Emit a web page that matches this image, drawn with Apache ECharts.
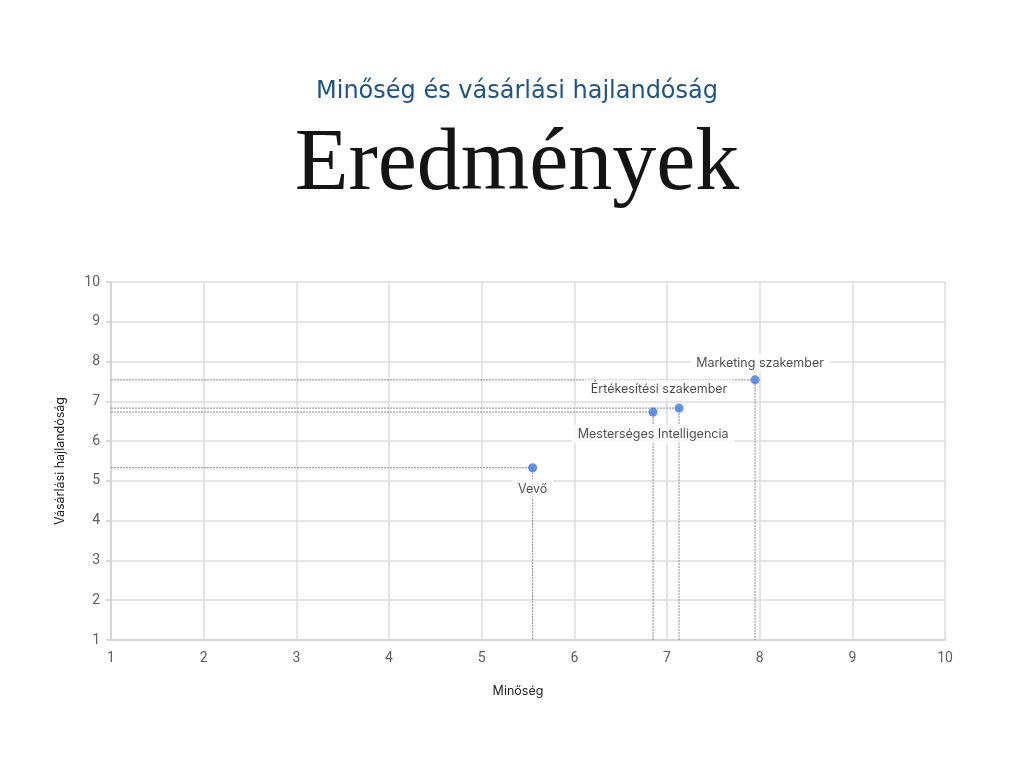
<!DOCTYPE html>
<html>
<head>
<meta charset="utf-8">
<script src="https://cdn.jsdelivr.net/npm/echarts@6/dist/echarts.min.js"></script>
<style>
  html, body { margin: 0; padding: 0; background: #fff; }
  #chart { width: 1024px; height: 768px; }
</style>
</head>
<body>
<div id="chart"></div>
<script>
// adatok
const names = ['Vevő', 'Mesterséges Intelligencia', 'Értékesítési szakember', 'Marketing szakember']
const quality = [5.55, 6.85, 7.13, 7.95]
const willingness = [5.33, 6.73, 6.83, 7.54]
const axisTicks = [1, 2, 3, 4, 5, 6, 7, 8, 9, 10]

const labelFont = 'Inter, "Open Sans", sans-serif'
// label placement per point
const labelPlace = [
  { position: 'bottom', offset: [0, 2] },
  { position: 'bottom', offset: [0, 3] },
  { position: 'top', offset: [-20, 0] },
  { position: 'top', offset: [5, 2] }
]

const myChart = echarts.init(document.getElementById('chart'))

// szaggatott vetítővonalak a tengelyekig
const dropLines = names.map((n, i) => ({
  type: 'line',
  silent: true,
  symbol: 'none',
  z: 1,
  lineStyle: { color: '#8a8a8a', width: 1, type: [2, 1] },
  data: [[axisTicks[0], willingness[i]], [quality[i], willingness[i]], [quality[i], axisTicks[0]]]
}))

myChart.setOption({
  backgroundColor: '#fff',
  title: [
    {
      text: 'Minőség és vásárlási hajlandóság',
      left: 512, top: 75, textAlign: 'center',
      textStyle: { color: '#1f5584', fontSize: 24, fontWeight: 'normal', fontFamily: '"DejaVu Sans", sans-serif' }
    },
    {
      text: 'Eredmények',
      left: 512, top: 117, textAlign: 'center',
      textStyle: { color: '#141414', fontSize: 88, fontWeight: 'normal', fontFamily: '"Liberation Serif", serif' }
    }
  ],
  grid: { left: 111, right: 79, top: 282, bottom: 128 },
  xAxis: {
    type: 'value', min: 1, max: 10, interval: 1,
    name: 'Minőség', nameLocation: 'middle', nameGap: 45,
    nameTextStyle: { color: '#222', fontSize: 12.5, fontFamily: labelFont, padding: [0, 20, 0, 0] },
    axisLine: { show: true, lineStyle: { color: '#cfcfcf', width: 1.5 } },
    axisTick: { show: false },
    axisLabel: { color: '#5f5f5f', fontSize: 14, margin: 11, fontFamily: 'Roboto, sans-serif' },
    splitLine: { lineStyle: { color: '#dcdcdc', width: 1.5 } }
  },
  yAxis: {
    type: 'value', min: 1, max: 10, interval: 1,
    name: 'Vásárlási hajlandóság', nameLocation: 'middle', nameGap: 44,
    nameTextStyle: { color: '#222', fontSize: 12.5, fontFamily: labelFont },
    axisLine: { show: true, lineStyle: { color: '#cfcfcf', width: 1.5 } },
    axisTick: { show: true, length: 5, lineStyle: { color: '#cfcfcf', width: 1.5 } },
    axisLabel: { color: '#5f5f5f', fontSize: 14, margin: 11, fontFamily: 'Roboto, sans-serif' },
    splitLine: { lineStyle: { color: '#dcdcdc', width: 1.5 } }
  },
  series: [
    ...dropLines,
    {
      type: 'scatter',
      z: 5,
      symbolSize: 9,
      itemStyle: { color: '#3a78e8' },
      data: names.map((n, i) => ({
        name: n,
        value: [quality[i], willingness[i]],
        label: {
          show: true,
          formatter: n,
          position: labelPlace[i].position,
          offset: labelPlace[i].offset,
          color: '#1e1e1e',
          fontSize: 12.5,
          fontFamily: labelFont,
          backgroundColor: '#fff',
          padding: [3, 6]
        }
      }))
    }
  ]
})
</script>
</body>
</html>
